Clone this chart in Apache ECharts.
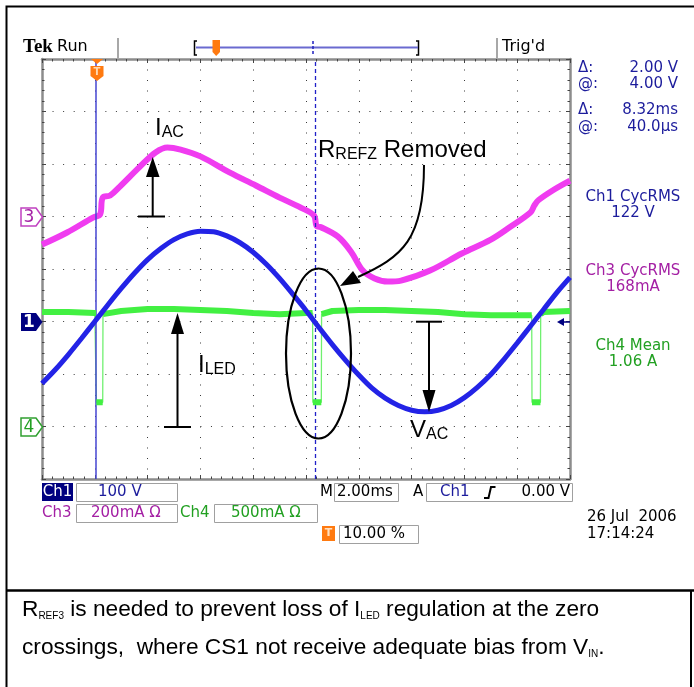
<!DOCTYPE html>
<html><head><meta charset="utf-8">
<script src="https://cdn.jsdelivr.net/npm/echarts@6/dist/echarts.min.js"></script>
<style>html,body{margin:0;padding:0;background:#fff}#c{width:694px;height:687px}</style>
</head><body><div id="c"></div>
<script>
// ---------------- DATA ----------------
// Ch1: line voltage, 100 V/div
const ch1TimeMs = [-2,-1.5,-1,-0.5,0,0.5,1,1.5,2,2.5,3,3.5,4,4.5,5,5.5,6,6.5,7,7.5,8,8.5,9,9.5,10,10.5,11,11.5,12,12.5,13,13.5,14,14.5,15,15.5,16,16.5,17,17.5,18];
const ch1Volts  = [-118,-92,-63,-32,0,32,63,92,118,139,156,167,172,171,163,150,132,109,82,52,21,-12,-44,-74,-102,-127,-146,-160,-169,-172,-169,-160,-145,-125,-101,-72,-41,-9,23,55,84];
// Ch3: AC input current, 200 mA/div
const ch3TimeMs = [-2,-1.05,-0.07,0.2,0.3,0.58,0.95,1.71,2.3,2.75,3.25,4.0,5.1,6.1,7.0,7.8,8.3,8.4,8.55,9.2,9.7,10.15,10.6,11.1,11.6,12.7,13.9,15.0,15.7,16.5,16.65,16.8,17.4,18];
const ch3mA     = [-107,-61,-4,8,72,80,114,190,244,263,255,229,168,118,72,34,4,-36,-40,-76,-133,-206,-236,-248,-244,-206,-141,-88,-42,15,42,62,103,137];
// Ch4: LED current, 500 mA/div
const ch4TimeMs = [-2,-1,0,0.05,0.06,0.3,0.31,1,2,3,4,5,6,7,8,8.25,8.26,8.58,8.59,9,10,11,12,13,14,15,16,16.55,16.56,16.88,16.89,17,18];
const ch4Amps   = [1.09,1.09,1.08,1.08,0.23,0.23,1.07,1.10,1.12,1.12,1.11,1.10,1.08,1.07,1.08,1.08,0.23,0.23,1.07,1.10,1.11,1.11,1.10,1.09,1.07,1.06,1.06,1.06,0.23,0.23,1.07,1.09,1.10];
// cursors (ms)
const cursorTimesMs = [0.04, 8.36];
// readouts
const readouts = [['Δ:','2.00 V'],['@:','4.00 V'],['Δ:','8.32ms'],['@:','40.0µs']];
const measurements = [['Ch1 CycRMS','122 V'],['Ch3 CycRMS','168mA'],['Ch4 Mean','1.06 A']];

// scope settings: units/div and ground position (div from centre)
const scopeCh = {
  ch1: {perDiv:100, offset:-1},
  ch3: {perDiv:200, offset:1},
  ch4: {perDiv:0.5, offset:-3}
};

// ---------------- helpers ----------------
const ctx = document.createElement('canvas').getContext('2d');
function tw(t, f){ ctx.font = f; return ctx.measureText(t).width; }
function T(x, y, text, color, font, align){
  return {type:'text', x:x, y:y, z:100, silent:true,
    style:{text:text, fill:color||'#000', font:font, align:align||'left', textAlign:align||'left',
           verticalAlign:'middle', textVerticalAlign:'middle'}};
}
function L(pts, color, w, dash){
  return {type:'polyline', z:100, silent:true, shape:{points:pts},
    style:{stroke:color, lineWidth:w, lineDash:dash||null, fill:'none'}};
}
function P(pts, fill, stroke, lw){
  return {type:'polygon', z:100, silent:true, shape:{points:pts},
    style:{fill:fill, stroke:stroke||null, lineWidth:lw||0}};
}
function R(x, y, w, h, fill, stroke){
  return {type:'rect', z:100, silent:true, shape:{x:x, y:y, width:w, height:h},
    style:{fill:fill||'none', stroke:stroke||null, lineWidth:1}};
}
function runs(x, y, parts){
  const els = []; let cx = x;
  parts.forEach(function(p){
    els.push(T(cx, y + (p[2]||0), p[0], p[3]||'#000', p[1]));
    cx += tw(p[0], p[1]);
  });
  return els;
}

const C1 = '#2323e6', C3 = '#f03cf0', C4 = '#42f042';
const NAVY = '#1c1c9c', MAG = '#a420a4', GRN = '#22a022';
const SF = 'DejaVu Sans';
const AF = 'Liberation Sans';

const toPts = (ts, vs, ch) => ts.map((t,i) => [t, vs[i]/scopeCh[ch].perDiv + scopeCh[ch].offset]);
const ch1Pts = toPts(ch1TimeMs, ch1Volts, 'ch1');
const ch3Pts = toPts(ch3TimeMs, ch3mA, 'ch3');
const ch4Pts = toPts(ch4TimeMs, ch4Amps, 'ch4');
// thick segments of ch4 (break at the fast edges)
const ch4Thick = [];
ch4Amps.forEach(function(a, i){
  ch4Thick.push(ch4Pts[i]);
  if (i < ch4Amps.length-1 && (a > 0.5) !== (ch4Amps[i+1] > 0.5)) ch4Thick.push([ch4TimeMs[i], null]);
});

const axisCommon = {
  type:'value', axisLabel:{show:false},
  axisLine:{show:true, onZero:false, lineStyle:{color:'#8c8c8c', width:2.5}},
  axisTick:{show:true, inside:true, length:4, lineStyle:{color:'#444'}},
  minorTick:{show:true, splitNumber:5, length:2.5, lineStyle:{color:'#444'}}
};
function xa(pos, split){
  return Object.assign({}, axisCommon, {position:pos, min:-2, max:18, interval:2,
    splitLine:{show:split, lineStyle:{color:'#3a3a3a', width:1, type:[1,9.5]}}});
}
function ya(pos, split){
  return Object.assign({}, axisCommon, {position:pos, min:-4, max:4, interval:1,
    splitLine:{show:split, lineStyle:{color:'#3a3a3a', width:1, type:[1,9.56]}}});
}

// ---------------- graphic (screen furniture + annotations) ----------------
const g = [];
// outer frame
g.push(L([[694,6.5],[6.5,6.5],[6.5,687]], '#000', 2));
g.push(L([[6.5,590.5],[694,590.5]], '#000', 2.5));
g.push(L([[691,590.5],[691,687]], '#000', 2));
// header
g.push(T(23, 47, 'Tek', '#000', 'bold 19px Liberation Serif'));
g.push(T(57, 47, 'Run', '#000', '16px ' + SF));
g.push(L([[118,38],[118,58]], '#a8a8a8', 2));
g.push(L([[497,38],[497,58]], '#a8a8a8', 2));
g.push(L([[197,41],[194.5,41],[194.5,55],[197,55]], '#000', 1.5));
g.push(L([[416,41],[418.5,41],[418.5,55],[416,55]], '#000', 1.5));
g.push(L([[196,47.5],[418,47.5]], '#6a6ad0', 2));
g.push(P([[212.5,40],[220,40],[220,52],[216.2,56],[212.5,52]], '#ff7a10'));
g.push(L([[313,41],[313,55]], '#2020c0', 1.5, [3,2]));
g.push(T(502, 47, "Trig'd", '#000', '16px ' + SF));
// trigger marker on graticule
g.push(P([[91,59],[103,59],[97,64]], '#ff7a10'));
g.push(P([[90.5,66],[103.5,66],[103.5,76],[97,81],[90.5,76]], '#ff7a10'));
g.push(T(97, 72, 'T', '#ffd8b0', 'bold 10px ' + SF, 'center'));
// left channel markers
g.push(P([[21,208],[36,208],[42.5,217],[36,226],[21,226]], '#fff', '#c040c0', 1.5));
g.push(T(29, 217.5, '3', MAG, '17px ' + SF, 'center'));
g.push(P([[21,313],[36,313],[42.5,322],[36,331],[21,331]], '#000080'));
g.push(T(29, 322.5, '1', '#fff', 'bold 17px ' + SF, 'center'));
g.push(P([[21,418],[36,418],[42.5,427],[36,436],[21,436]], '#fff', '#30a030', 1.5));
g.push(T(29, 427.5, '4', GRN, '17px ' + SF, 'center'));
// ch1 trigger level arrow
g.push(P([[557,322],[564,318],[564,326]], '#000080'));
g.push(L([[563,322],[570,322]], '#000080', 1.5));
// right readouts
[68, 84, 110, 127].forEach(function(y, i){
  g.push(T(578, y, readouts[i][0], NAVY, '15px ' + SF));
  g.push(T(678, y, readouts[i][1], NAVY, '15px ' + SF, 'right'));
});
const mCols = [NAVY, MAG, GRN], mY = [197, 271, 346];
measurements.forEach(function(m, i){
  g.push(T(633, mY[i], m[0], mCols[i], '15px ' + SF, 'center'));
  g.push(T(633, mY[i]+16, m[1], mCols[i], '15px ' + SF, 'center'));
});
// bottom status
g.push(R(42, 483, 31, 18, '#000080'));
g.push(T(57.5, 492.5, 'Ch1', '#fff', '15px ' + SF, 'center'));
g.push(R(76.5, 483.5, 101, 18, 'none', '#a0a0a0'));
g.push(T(98, 492.5, '100 V', NAVY, '15px ' + SF));
g.push(T(320, 492.5, 'M', '#000', '15px ' + SF));
g.push(R(334.5, 483.5, 64, 18, 'none', '#a0a0a0'));
g.push(T(337, 492.5, '2.00ms', '#000', '15px ' + SF));
g.push(T(413, 492.5, 'A', '#000', '15px ' + SF));
g.push(R(426.5, 483.5, 146, 18, 'none', '#a0a0a0'));
g.push(T(440, 492.5, 'Ch1', NAVY, '15px ' + SF));
g.push(L([[484,498],[488.5,498],[491,487],[495.5,487]], '#000', 2));
g.push(T(570, 492.5, '0.00 V', '#000', '15px ' + SF, 'right'));
g.push(T(42, 513, 'Ch3', MAG, '15px ' + SF));
g.push(R(76.5, 504.5, 101, 18, 'none', '#a0a0a0'));
g.push(T(91, 513, '200mA Ω', MAG, '15px ' + SF));
g.push(T(180, 513, 'Ch4', GRN, '15px ' + SF));
g.push(R(214.5, 504.5, 103, 18, 'none', '#a0a0a0'));
g.push(T(231, 513, '500mA Ω', GRN, '15px ' + SF));
g.push(R(322, 526, 13, 15, '#ff7a10'));
g.push(T(328.5, 533.5, 'T', '#ffe0c0', 'bold 11px ' + SF, 'center'));
g.push(R(339.5, 525.5, 79, 18, 'none', '#a0a0a0'));
g.push(T(343, 534, '10.00 %', '#000', '15px ' + SF));
g.push(T(587, 517, '26 Jul  2006', '#000', '15px ' + SF));
g.push(T(587, 534, '17:14:24', '#000', '15px ' + SF));
// annotations
const BF = '24px ' + AF, SBF = '16px ' + AF;
runs(155, 128, [['I', BF, 0], ['AC', SBF, 5]]).forEach(e=>g.push(e));
runs(318, 150, [['R', BF, 0], ['REFZ', SBF, 5], [' Removed', BF, 0]]).forEach(e=>g.push(e));
runs(198, 365, [['I', BF, 0], ['LED', SBF, 5]]).forEach(e=>g.push(e));
runs(410, 430, [['V', BF, 0], ['AC', SBF, 5]]).forEach(e=>g.push(e));
// I_AC arrow
g.push(L([[138,216.5],[165,216.5]], '#000', 2));
g.push(L([[152.7,216.5],[152.7,175]], '#000', 2));
g.push(P([[146,177],[159.5,177],[152.7,157]], '#000'));
// I_LED arrow
g.push(L([[164,427],[191,427]], '#000', 2));
g.push(L([[177.5,427],[177.5,332]], '#000', 2));
g.push(P([[171,334],[184,334],[177.5,313]], '#000'));
// V_AC arrow
g.push(L([[416,321.7],[442,321.7]], '#000', 2));
g.push(L([[429,321.7],[429,392]], '#000', 2));
g.push(P([[422.5,390],[435.5,390],[429,412]], '#000'));
// ellipse
g.push({type:'ellipse', z:100, silent:true, shape:{cx:318.5, cy:353.5, rx:32.5, ry:85},
        style:{fill:'none', stroke:'#000', lineWidth:2.2}});
// curved arrow
g.push({type:'bezierCurve', z:100, silent:true,
        shape:{x1:424, y1:165, cpx1:424, cpy1:240, cpx2:402, cpy2:257, x2:358, y2:277},
        style:{fill:'none', stroke:'#000', lineWidth:2}});
g.push(P([[340,286],[353,271],[361,283]], '#000'));
// caption
const CF = '22.7px ' + AF, CS = '10px ' + AF;
runs(22, 610, [['R', CF, 0], ['REF3', CS, 6], [' is needed to prevent loss of I', CF, 0], ['LED', CS, 6], [' regulation at the zero', CF, 0]]).forEach(e=>g.push(e));
runs(22, 648, [['crossings,  where CS1 not receive adequate bias from V', CF, 0], ['IN', CS, 6], ['.', CF, 0]]).forEach(e=>g.push(e));

// ---------------- chart ----------------
const chart = echarts.init(document.getElementById('c'));
chart.setOption({
  animation:false,
  backgroundColor:'#fff',
  grid:{left:42, top:59, width:528, height:420, show:false},
  xAxis:[xa('bottom', true), xa('top', false)],
  yAxis:[ya('left', true), ya('right', false)],
  series:[
    {type:'line', name:'Ch3', data:ch3Pts, showSymbol:false, smooth:0.35, z:3,
     lineStyle:{color:C3, width:6}},
    {type:'line', name:'Ch4 edges', data:ch4Pts, showSymbol:false, z:4,
     lineStyle:{color:'#70f070', width:1.3}},
    {type:'line', name:'Ch4', data:ch4Thick, showSymbol:false, connectNulls:false, z:5,
     lineStyle:{color:C4, width:6}},
    {type:'line', name:'Ch1', data:ch1Pts, showSymbol:false, smooth:0.3, z:6,
     lineStyle:{color:C1, width:5},
     markLine:{silent:true, symbol:'none', label:{show:false},
       data:[
         {xAxis:cursorTimesMs[0], lineStyle:{color:'#4646d2', width:1.5, type:'solid'}},
         {xAxis:cursorTimesMs[1], lineStyle:{color:'#2020c8', width:1.3, type:[4,3]}}
       ]}}
  ],
  graphic:{elements:g}
});
</script></body></html>
